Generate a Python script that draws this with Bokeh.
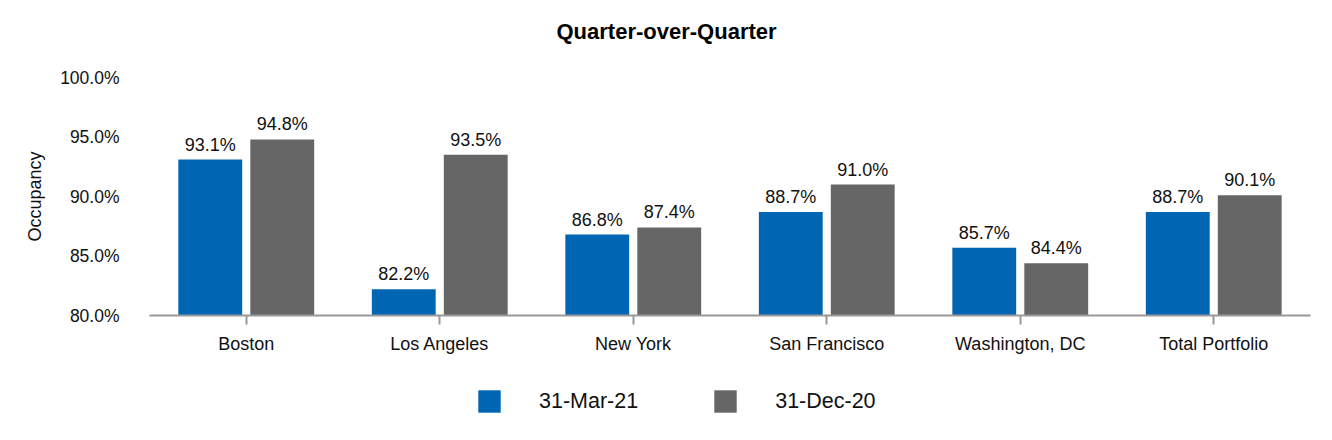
from bokeh.plotting import figure
from bokeh.layouts import column
from bokeh.models import ColumnDataSource, FactorRange, Legend, LegendItem, PrintfTickFormatter, LabelSet, Label, Range1d
from bokeh.core.properties import value
from bokeh.transform import dodge
from bokeh.embed import file_html
from bokeh.resources import INLINE

categories = ["Boston", "Los Angeles", "New York", "San Francisco", "Washington, DC", "Total Portfolio"]
mar21 = [93.1, 82.2, 86.8, 88.7, 85.7, 88.7]
dec20 = [94.8, 93.5, 87.4, 91.0, 84.4, 90.1]
series_names = ["31-Mar-21", "31-Dec-20"]
y_ticks = [80, 85, 90, 95, 100]
title_text = "Quarter-over-Quarter"

BLUE = "#0066B3"
GRAY = "#666666"
FONT = "Liberation Sans"
W = 1316

src = ColumnDataSource(dict(
    cat=categories, mar=mar21, dec=dec20,
    mar_lbl=[f"{v:.1f}%" for v in mar21],
    dec_lbl=[f"{v:.1f}%" for v in dec20],
))

def strip(h):
    f = figure(width=W, height=h, output_backend="svg", toolbar_location=None,
               x_axis_type=None, y_axis_type=None, x_range=Range1d(0, 1), y_range=Range1d(0, 1),
               min_border_left=0, min_border_right=0, min_border_top=0, min_border_bottom=0)
    f.outline_line_color = None
    f.xgrid.grid_line_color = None
    f.ygrid.grid_line_color = None
    return f

# title strip
top = strip(60)
top.add_layout(Label(x=407, y=29, x_units="screen", y_units="screen", text=title_text,
                     text_font=FONT, text_font_size="22px", text_font_style="bold",
                     text_color="#000000", text_align="left", text_baseline="middle"))

p = figure(x_range=FactorRange(*categories, range_padding=0), y_range=Range1d(80, 100),
           width=W, height=310, output_backend="svg", toolbar_location=None,
           min_border_left=149, min_border_right=6, min_border_top=17, min_border_bottom=55)

r1 = p.vbar(x=dodge("cat", -0.186, range=p.x_range), top="mar", bottom=80, width=0.33,
            source=src, color=BLUE, line_color=None)
r2 = p.vbar(x=dodge("cat", 0.186, range=p.x_range), top="dec", bottom=80, width=0.33,
            source=src, color=GRAY, line_color=None)

for col, lbl, off in (("mar", "mar_lbl", -0.186), ("dec", "dec_lbl", 0.186)):
    ls = LabelSet(x=dodge("cat", off, range=p.x_range), y=col, text=lbl, source=src,
                  text_align="center", text_baseline="bottom", y_offset=5,
                  text_font=value(FONT), text_font_size=value("18px"), text_color="#111111")
    p.add_layout(ls)

p.xgrid.grid_line_color = None
p.ygrid.grid_line_color = None
p.outline_line_color = None

xa = p.xaxis[0]
xa.axis_line_color = "#999999"
xa.axis_line_width = 2
xa.major_tick_line_color = "#999999"
xa.major_tick_line_width = 2
xa.major_tick_out = 9
xa.major_tick_in = 0
xa.minor_tick_line_color = None
xa.major_label_text_font = FONT
xa.major_label_text_font_size = "18px"
xa.major_label_text_color = "#111111"
xa.major_label_standoff = 9

ya = p.yaxis[0]
ya.axis_line_color = None
ya.major_tick_line_color = None
ya.minor_tick_line_color = None
ya.ticker = y_ticks
ya.formatter = PrintfTickFormatter(format="%.1f%%")
ya.major_label_text_font = FONT
ya.major_label_text_font_size = "17.5px"
ya.major_label_text_color = "#111111"
ya.major_label_standoff = 24
ya.axis_label = "Occupancy"
ya.axis_label_text_font = FONT
ya.axis_label_text_font_size = "18px"
ya.axis_label_text_font_style = "normal"
ya.axis_label_text_color = "#111111"
ya.axis_label_standoff = 12

# legend strip below the chart
lg = strip(54)
dummy = ColumnDataSource(dict(x=[-5], top=[-5]))
l1 = lg.vbar(x="x", top="top", width=0.1, source=dummy, color=BLUE, line_color=None)
l2 = lg.vbar(x="x", top="top", width=0.1, source=dummy, color=GRAY, line_color=None)

legend = Legend(items=[LegendItem(label=series_names[0], renderers=[l1]),
                       LegendItem(label=series_names[1], renderers=[l2])],
                orientation="horizontal", location=(326, 9),
                glyph_width=28, glyph_height=28, label_standoff=36, spacing=73,
                label_text_font=FONT, label_text_font_size="21.5px", label_text_color="#111111",
                border_line_color=None, background_fill_alpha=0, padding=0, margin=0)
lg.add_layout(legend)

layout = column(top, p, lg, spacing=0)
open("out.html", "w").write(file_html(layout, INLINE))
